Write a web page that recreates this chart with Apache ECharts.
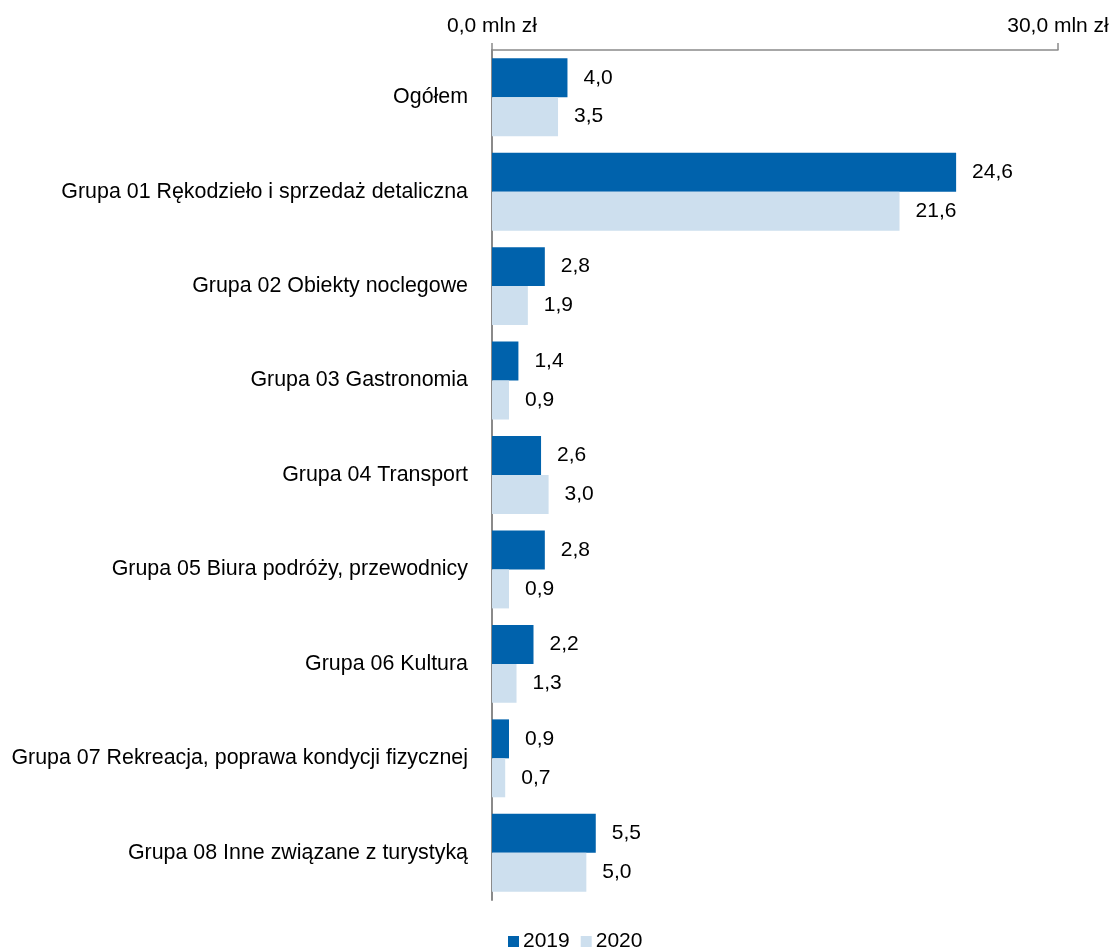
<!DOCTYPE html>
<html><head><meta charset="utf-8">
<script src="https://cdn.jsdelivr.net/npm/echarts@6/dist/echarts.min.js"></script>
<style>html,body{margin:0;padding:0;background:#fff}#c{width:1114px;height:952px}</style>
</head><body><div id="c"></div>
<script>
const categories = [
  "Ogółem",
  "Grupa 01 Rękodzieło i sprzedaż detaliczna",
  "Grupa 02 Obiekty noclegowe",
  "Grupa 03 Gastronomia",
  "Grupa 04 Transport",
  "Grupa 05 Biura podróży, przewodnicy",
  "Grupa 06 Kultura",
  "Grupa 07 Rekreacja, poprawa kondycji fizycznej",
  "Grupa 08 Inne związane z turystyką"
];
const values2019 = [4.0, 24.6, 2.8, 1.4, 2.6, 2.8, 2.2, 0.9, 5.5];
const values2020 = [3.5, 21.6, 1.9, 0.9, 3.0, 0.9, 1.3, 0.7, 5.0];
const seriesNames = ["2019", "2020"];
const xMin = 0, xMax = 30, xStep = 30;
const unit = " mln zł";

const FONT = "Liberation Sans, Arial, sans-serif";
const FS = 21;
const fmt = v => Number(v).toFixed(1).replace(".", ",");
const chart = echarts.init(document.getElementById("c"), null, {renderer: "canvas"});
const labelCfg = {show: true, position: "right", distance: 16, fontFamily: FONT, fontSize: FS, color: "#000",
  formatter: p => fmt(p.value)};
chart.setOption({
  animation: false,
  textStyle: {fontFamily: FONT},
  grid: {left: 492, right: 56, top: 50, bottom: 52, containLabel: false},
  legend: {
    top: 931, left: 508, padding: 0, itemWidth: 11, itemHeight: 11, itemGap: 11,
    icon: "rect", textStyle: {fontFamily: FONT, fontSize: FS, color: "#000", padding: [0, 0, 0, -1]},
    data: seriesNames
  },
  xAxis: {
    type: "value", position: "top", min: xMin, max: xMax, interval: xStep,
    splitLine: {show: false},
    axisLine: {show: true, lineStyle: {color: "#8a8a8a", width: 1.5}},
    axisTick: {show: true, length: 7, inside: false, lineStyle: {color: "#8a8a8a", width: 1.5}},
    axisLabel: {fontFamily: FONT, fontSize: FS, color: "#000", margin: 13,
      formatter: v => fmt(v) + unit}
  },
  yAxis: {
    type: "category", data: categories, inverse: true,
    axisLine: {show: true, lineStyle: {color: "#8a8a8a", width: 2}},
    axisTick: {show: false},
    axisLabel: {fontFamily: FONT, fontSize: 21.4, color: "#000", margin: 24}
  },
  series: [
    {name: seriesNames[0], type: "bar", data: values2019, barGap: "0%", barCategoryGap: "17.5%",
      itemStyle: {color: "#0062AC"}, label: labelCfg},
    {name: seriesNames[1], type: "bar", data: values2020, barGap: "0%", barCategoryGap: "17.5%",
      itemStyle: {color: "#CDDFEE"}, label: labelCfg}
  ]
});
</script></body></html>
